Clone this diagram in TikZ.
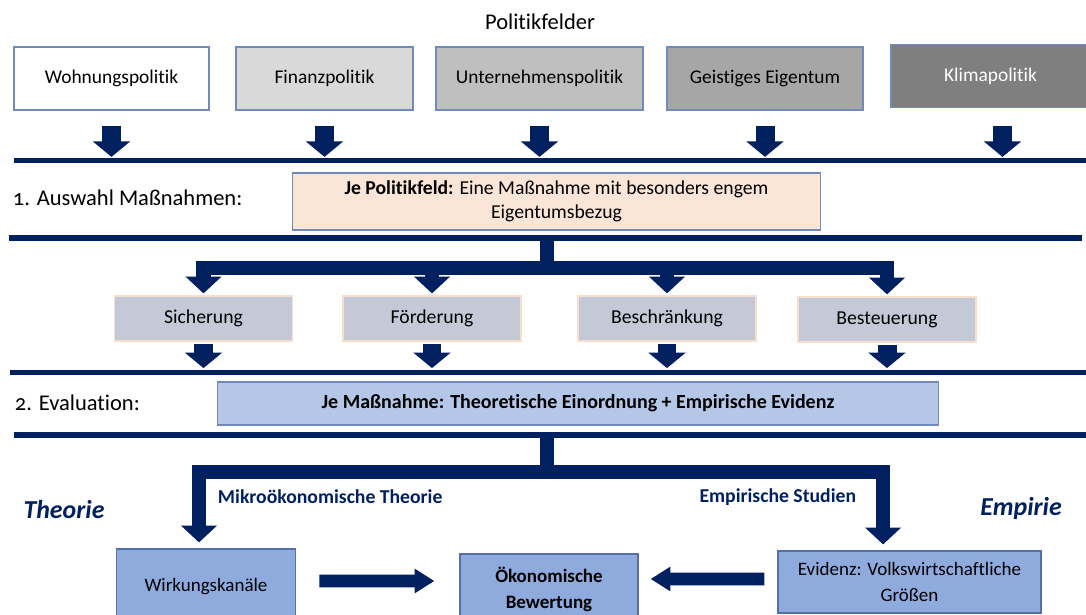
\documentclass[tikz,border=0pt]{standalone}
\usepackage{fontspec}
\setmainfont{Carlito}[Ligatures=NoCommon]
\usepackage{xcolor}
\usetikzlibrary{arrows.meta,calc}

\definecolor{navy}{RGB}{0,32,96}
\definecolor{feldrand}{RGB}{112,138,188}
\definecolor{grauA}{RGB}{217,217,217}
\definecolor{grauB}{RGB}{191,191,191}
\definecolor{grauC}{RGB}{166,166,166}
\definecolor{grauD}{RGB}{127,127,127}
\definecolor{rosa}{RGB}{251,229,214}
\definecolor{massfill}{RGB}{196,201,216}
\definecolor{massrand}{RGB}{248,222,204}
\definecolor{evalfill}{RGB}{180,199,231}
\definecolor{unten}{RGB}{143,170,220}
\definecolor{untenrand}{RGB}{84,112,168}

\tikzset{
  feld/.style={draw=feldrand, line width=0.8pt, minimum height=1.575cm, font=\fontsize{13.8}{16}\selectfont},
  massbox/.style={draw=massrand, fill=massfill, line width=0.8pt, minimum width=4.45cm, minimum height=1.125cm, font=\fontsize{14}{16}\selectfont},
  untenbox/.style={draw=untenrand, fill=unten, line width=0.8pt, align=center, font=\fontsize{13.5}{18}\selectfont},
  bar/.style={draw=navy, line width=3.6pt},
  fatarrow/.style={draw=navy, line width=13.5pt, -{Triangle[width=26pt,length=11pt]}},
  branch/.style={draw=navy, line width=10pt, line join=miter},
  brancharrow/.style={branch, -{Triangle[width=25pt,length=12pt]}},
  sidearrow/.style={draw=navy, line width=9pt, -{Triangle[width=16.5pt,length=14pt]}},
  steplabel/.style={anchor=west, font=\fontsize{16}{19}\selectfont\addfontfeatures{Numbers=OldStyle}},
  pathlabel/.style={text=navy, font=\bfseries\fontsize{14}{16}\selectfont},
  seite/.style={text=navy, font=\bfseries\itshape\fontsize{18.4}{21}\selectfont}
}

\begin{document}
\begin{tikzpicture}[x=0.025cm, y=-0.025cm]
  \useasboundingbox (0,0) rectangle (1086,615);

  % Politikfelder
  \node[font=\fontsize{16}{19}\selectfont] (felder) at (540,22) {Politikfelder};
  \node[feld, fill=white, minimum width=4.875cm] (wohnung) at (111.5,78.5) {Wohnungspolitik};
  \node[feld, fill=grauA, minimum width=4.425cm] (finanz) at (324.5,78.5) {Finanzpolitik};
  \node[feld, fill=grauB, minimum width=5.175cm] (unternehmen) at (539.5,78.5) {Unternehmenspolitik};
  \node[feld, fill=grauC, minimum width=4.9cm] (geistig) at (765,78.5) {Geistiges Eigentum};
  \node[feld, fill=grauD, text=white, minimum width=4.975cm] (klima) at (990.5,76) {Klimapolitik};

  \coordinate (b1l) at (14,160.5);
  \coordinate (b1r) at (1086,160.5);
  \draw[bar] (b1l) -- (b1r);
  \foreach \f in {wohnung,finanz,unternehmen,geistig}
    \draw[fatarrow, shorten <=0.375cm, shorten >=0.09cm] (\f.south) -- (\f.south |- b1l);
  \draw[fatarrow, shorten <=0.45cm, shorten >=0.09cm] ([xshift=0.3cm]klima.south) -- ([xshift=0.3cm]klima.south |- b1l);

  % 1. Auswahl
  \node[steplabel] (auswahl) at (8,198) {1. Auswahl Maßnahmen:};
  \node[draw=feldrand, fill=rosa, line width=0.8pt, minimum width=13.175cm, minimum height=1.425cm,
        align=center, font=\fontsize{14}{17}\selectfont] (feldwahl) at (556.5,201.5)
        {\textbf{Je Politikfeld:} Eine Maßnahme mit besonders engem\\Eigentumsbezug};
  \coordinate (b2l) at (9,238);
  \coordinate (b2r) at (1082,238);
  \draw[bar] (b2l) -- (b2r);

  \node[massbox] (sich) at (203.5,318.5) {Sicherung};
  \node[massbox] (foerd) at (432,318.5) {Förderung};
  \node[massbox] (beschr) at (667,318.5) {Beschränkung};
  \node[massbox] (besteu) at (887,319.5) {Besteuerung};

  \coordinate (split1) at (547,268);
  \draw[branch] (split1 |- b2l) -- (split1);
  \foreach \m in {sich,foerd,beschr,besteu}
    \draw[brancharrow, shorten >=0.05cm] (split1) -| (\m);

  \coordinate (b3l) at (10,372.5);
  \coordinate (b3r) at (1086,372.5);
  \draw[bar] (b3l) -- (b3r);
  \foreach \m in {sich,foerd,beschr,besteu}
    \draw[fatarrow, shorten <=0.07cm, shorten >=0.11cm] (\m.south) -- (\m.south |- b3l);

  % 2. Evaluation
  \node[steplabel] (evaluation) at (10,403) {2. Evaluation:};
  \node[draw=feldrand, fill=evalfill, line width=0.8pt, minimum width=18.01cm, minimum height=1.075cm,
        font=\bfseries\fontsize{14.2}{16}\selectfont] (eval) at (578,403.5)
        {Je Maßnahme: Theoretische Einordnung + Empirische Evidenz};
  \coordinate (b4l) at (14,435);
  \coordinate (b4r) at (1086,435);
  \draw[bar] (b4l) -- (b4r);

  \node[untenbox, minimum width=4.4625cm, minimum height=1.9cm] (wirk) at (206,587) {Wirkungskanäle};
  \node[untenbox, minimum width=4.45cm, minimum height=1.775cm] (oekon) at (549,589.5)
        {\textbf{Ökonomische}\\\textbf{Bewertung}};
  \node[untenbox, minimum width=6.575cm, minimum height=1.55cm] (evid) at (909.5,582)
        {Evidenz: Volkswirtschaftliche\\Größen};

  \coordinate (split2) at (547,472);
  \draw[branch] (split2 |- b4l) -- (split2);
  \draw[brancharrow, shorten >=0.15cm] (split2) -| ([xshift=-0.175cm]wirk.north);
  \draw[brancharrow, shorten >=0.15cm] (split2) -| ([xshift=-0.66cm]evid.north);

  \node[pathlabel, anchor=west] (mikro) at (213,497) {Mikroökonomische Theorie};
  \node[pathlabel, anchor=east] (empstud) at (861,497) {Empirische Studien};
  \node[seite] (theorie) at (64,510) {Theorie};
  \node[seite] (empirie) at (1021,508) {Empirie};

  \draw[sidearrow, shorten <=0.5875cm, shorten >=0.625cm] ([yshift=0.15cm]wirk.east) -- ([yshift=0.2125cm]oekon.west);
  \draw[sidearrow, shorten <=0.325cm, shorten >=0.3cm] ([yshift=0.075cm]evid.west) -- ([yshift=0.2625cm]oekon.east);
\end{tikzpicture}
\end{document}
